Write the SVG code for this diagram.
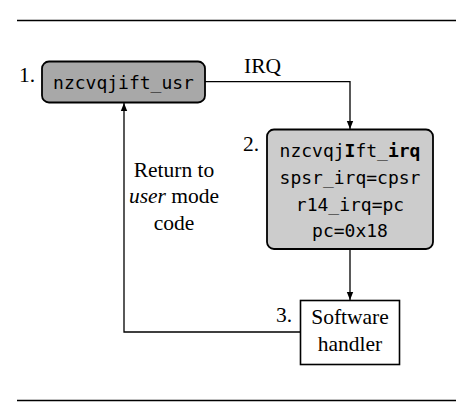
<svg xmlns="http://www.w3.org/2000/svg" width="456" height="407" viewBox="0 0 456 407">
<style>
.serif{font-family:"Liberation Serif","Times New Roman",serif;font-size:21.5px;fill:#000}
.mono{font-family:"DejaVu Sans Mono",monospace;font-size:18px;fill:#000}
.conn{fill:none;stroke:#000;stroke-width:1.3}
.rule{stroke:#000;stroke-width:1.6}
</style>
<defs>
<marker id="arr" viewBox="0 0 10 10" refX="10" refY="5" markerWidth="8" markerHeight="8" markerUnits="userSpaceOnUse" orient="auto">
<path d="M0,1 L10,5 L0,9 Z" fill="#000"/>
</marker>
</defs>
<line class="rule" x1="17" y1="20.5" x2="456" y2="20.5"/>
<line class="rule" x1="17" y1="400.5" x2="456" y2="400.5"/>
<g id="connectors">
<polyline class="conn" points="205,81.7 350,81.7 350,129" marker-end="url(#arr)"/>
<line class="conn" x1="350" y1="249" x2="350" y2="300" marker-end="url(#arr)"/>
<polyline class="conn" points="300,332 124,332 124,103" marker-end="url(#arr)"/>
<text class="serif" x="244" y="73">IRQ</text>
<text class="serif" x="174" y="177" text-anchor="middle">Return to</text>
<text class="serif" x="174" y="203" text-anchor="middle"><tspan font-style="italic">user</tspan> mode</text>
<text class="serif" x="174" y="230" text-anchor="middle">code</text>
</g>
<g id="node1">
<rect x="42" y="61.5" width="163" height="41" rx="7" fill="#a8a8a8" stroke="#000" stroke-width="1.8"/>
<text class="serif" x="19" y="82">1.</text>
<text class="mono" x="123.5" y="89" text-anchor="middle">nzcvqjift_usr</text>
</g>
<g id="node2">
<rect x="267" y="129.5" width="166" height="119.5" rx="7" fill="#cccccc" stroke="#000" stroke-width="1.8"/>
<text class="serif" x="243" y="151">2.</text>
<text class="mono" x="350" y="157" text-anchor="middle">nzcvqj<tspan font-weight="bold">I</tspan>ft_<tspan font-weight="bold">irq</tspan></text>
<text class="mono" x="350" y="184" text-anchor="middle">spsr_irq=cpsr</text>
<text class="mono" x="350" y="210.5" text-anchor="middle">r14_irq=pc</text>
<text class="mono" x="350" y="237" text-anchor="middle">pc=0x18</text>
</g>
<g id="node3">
<rect x="300.5" y="300.5" width="99" height="64" fill="#fff" stroke="#000" stroke-width="1.6"/>
<text class="serif" x="276" y="322">3.</text>
<text class="serif" x="350" y="324" text-anchor="middle">Software</text>
<text class="serif" x="350" y="351" text-anchor="middle">handler</text>
</g>
</svg>
